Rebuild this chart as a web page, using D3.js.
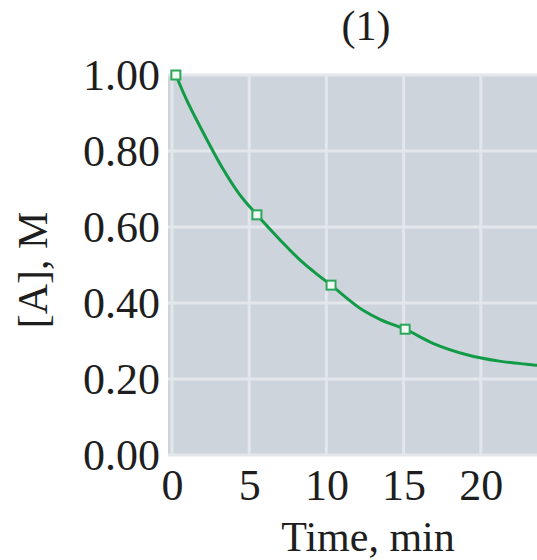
<!DOCTYPE html>
<html>
<head>
<meta charset="utf-8">
<script src="https://cdn.jsdelivr.net/npm/d3@7"></script>
<style>
  body { margin: 0; background: #fff; overflow: hidden; }
  text { font-family: "Liberation Serif", "Times New Roman", serif; fill: #1e1e1e; }
</style>
</head>
<body>
<div id="chart"></div>
<script>
var w = 537;
var h = 560;

// values
var title = "(1)";
var xLabel = "Time, min";
var yLabel = "[A], M";
var timeTicks = [0, 5, 10, 15, 20, 25];
var concTicks = [0, 0.2, 0.4, 0.6, 0.8, 1.0];
var pointTime = [0.25, 5.5, 10.3, 15.1];
var pointConc = [1.00, 0.632, 0.447, 0.331];
var curveTime = [0.25, 0.85, 2.0, 3.2, 4.3, 5.5, 7.0, 8.3, 9.2, 10.3, 12.4, 13.5, 15.1, 16.9, 19.1, 21.2, 23.4, 25.6];
var curveConc = [1.00, 0.943, 0.85, 0.76, 0.69, 0.632, 0.566, 0.513, 0.482, 0.447, 0.38, 0.356, 0.331, 0.294, 0.264, 0.247, 0.237, 0.230];

var xScale = d3.scaleLinear().domain([0, 25]).range([172, 558]);
var yScale = d3.scaleLinear().domain([0, 1]).range([455, 75]);

var svg = d3.select("#chart").append("svg")
  .attr("width", w)
  .attr("height", h);

// plot background
svg.append("rect")
  .attr("x", xScale(-0.26))
  .attr("y", yScale(1))
  .attr("width", xScale(25.6) - xScale(-0.26))
  .attr("height", yScale(0) - yScale(1))
  .attr("fill", "#ced4dc");

// grid
svg.selectAll(".vgrid").data(timeTicks).enter().append("line")
  .attr("class", "vgrid")
  .attr("x1", function(d){ return xScale(d); })
  .attr("x2", function(d){ return xScale(d); })
  .attr("y1", yScale(1))
  .attr("y2", yScale(0))
  .attr("stroke", "#e3e6eb")
  .attr("stroke-width", 3);

svg.selectAll(".hgrid").data(concTicks).enter().append("line")
  .attr("class", "hgrid")
  .attr("x1", xScale(-0.26))
  .attr("x2", xScale(25.6))
  .attr("y1", function(d){ return yScale(d); })
  .attr("y2", function(d){ return yScale(d); })
  .attr("stroke", "#e3e6eb")
  .attr("stroke-width", 3);

// axes (labels only)
var yAxis = svg.append("g")
  .attr("transform", "translate(168,0)")
  .call(d3.axisLeft(yScale).tickValues(concTicks).tickFormat(d3.format(".2f")).tickSize(0).tickPadding(8));
var xAxis = svg.append("g")
  .attr("transform", "translate(0,455)")
  .call(d3.axisBottom(xScale).tickValues(timeTicks).tickFormat(d3.format("d")).tickSize(0).tickPadding(14));
[yAxis, xAxis].forEach(function(g){
  g.select(".domain").remove();
  g.selectAll("text")
    .style("font-family", "'Liberation Serif', serif")
    .style("font-size", "44px")
    .attr("fill", "#1e1e1e");
});

// curve
var curveData = curveTime.map(function(t, i){ return {t: t, c: curveConc[i]}; });
var line = d3.line()
  .x(function(d){ return xScale(d.t); })
  .y(function(d){ return yScale(d.c); })
  .curve(d3.curveMonotoneX);
svg.append("path")
  .datum(curveData)
  .attr("d", line)
  .attr("fill", "none")
  .attr("stroke", "#129b46")
  .attr("stroke-width", 3);

// markers
var pts = pointTime.map(function(t, i){ return {t: t, c: pointConc[i]}; });
svg.selectAll(".pt").data(pts).enter().append("rect")
  .attr("class", "pt")
  .attr("x", function(d){ return xScale(d.t) - 4.5; })
  .attr("y", function(d){ return yScale(d.c) - 4.5; })
  .attr("width", 9)
  .attr("height", 9)
  .attr("fill", "#f2fbf4")
  .attr("stroke", "#2aa75a")
  .attr("stroke-width", 2);

// titles
svg.append("text")
  .attr("x", 366)
  .attr("y", 40)
  .style("text-anchor", "middle")
  .style("font-size", "42px")
  .text(title);

svg.append("text")
  .attr("x", 368)
  .attr("y", 551)
  .style("text-anchor", "middle")
  .style("font-size", "42px")
  .text(xLabel);

svg.append("text")
  .attr("transform", "translate(47,270) rotate(-90)")
  .style("text-anchor", "middle")
  .style("font-size", "42px")
  .text(yLabel);
</script>
</body>
</html>
